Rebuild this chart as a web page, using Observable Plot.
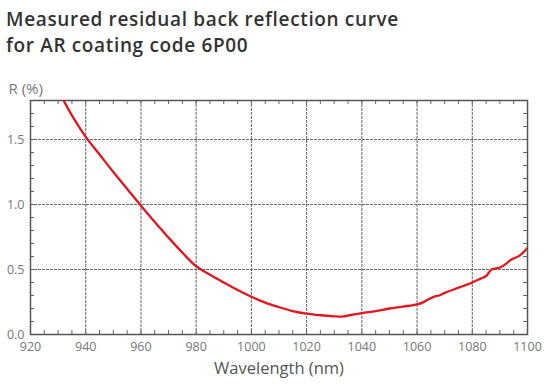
<!DOCTYPE html>
<html>
<head>
<meta charset="utf-8">
<script src="https://cdn.jsdelivr.net/npm/d3@7"></script>
<script src="https://cdn.jsdelivr.net/npm/@observablehq/plot@0.6"></script>
<style>
  html, body { margin: 0; padding: 0; background: #fff; }
  #title { height: 60px; box-sizing: border-box; padding: 6px 0 0 6px; font-family: "Open Sans", sans-serif; font-weight: 600; font-size: 19px; letter-spacing: 0.65px; line-height: 26px; color: #333; white-space: nowrap; }
  #chart svg { display: block; }
</style>
</head>
<body>
<div id="title">Measured residual back reflection curve<br>for AR coating code 6P00</div>
<div id="chart"></div>
<script>
const wavelength = [932, 935, 940, 945, 950, 955, 960, 965, 970, 975, 980, 985, 990, 995, 1000, 1005, 1010, 1015, 1020, 1025, 1030, 1033, 1036, 1040, 1045, 1050, 1055, 1060, 1062, 1064, 1066, 1068, 1070, 1075, 1080, 1083, 1085, 1087, 1090, 1092, 1094, 1097, 1100];
const reflection = [1.80, 1.685, 1.52, 1.385, 1.25, 1.12, 0.99, 0.865, 0.745, 0.63, 0.525, 0.46, 0.40, 0.342, 0.29, 0.245, 0.21, 0.18, 0.16, 0.148, 0.14, 0.138, 0.15, 0.165, 0.18, 0.20, 0.215, 0.232, 0.245, 0.27, 0.29, 0.30, 0.32, 0.36, 0.40, 0.43, 0.45, 0.50, 0.515, 0.54, 0.575, 0.605, 0.665];
const xTicks = [920, 940, 960, 980, 1000, 1020, 1040, 1060, 1080, 1100];
const yTicks = [0, 0.5, 1.0, 1.5];
const xMinor = d3.range(925, 1100, 5);
const yMinor = d3.range(0.1, 1.8, 0.1);

const data = wavelength.map((w, i) => ({w, r: reflection[i]}));
const W = 551, H = 331, mL = 30, mR = 24, mT = 40, mB = 57;
const pw = W - mL - mR, ph = H - mT - mB;
const grey = "#666";

const chart = Plot.plot({
  width: W, height: H,
  marginLeft: mL, marginRight: mR, marginTop: mT, marginBottom: mB,
  style: {fontFamily: "'Open Sans', sans-serif", fontSize: "12px", color: "#777", background: "#fff"},
  x: {domain: [920, 1100]},
  y: {domain: [0, 1.8]},
  marks: [
    Plot.gridX(xTicks.slice(1, -1), {stroke: "#555", strokeOpacity: 0.9, strokeWidth: 1, strokeDasharray: "3,1"}),
    Plot.gridY(yTicks.slice(1), {stroke: "#555", strokeOpacity: 0.9, strokeWidth: 1, strokeDasharray: "3,1"}),
    Plot.tickX(xMinor, {x: d => d, stroke: grey, insetTop: ph - 4}),
    Plot.tickX(xMinor, {x: d => d, stroke: grey, insetBottom: ph - 4}),
    Plot.tickY(yMinor, {y: d => d, stroke: grey, insetRight: pw - 4}),
    Plot.tickY(yMinor, {y: d => d, stroke: grey, insetLeft: pw - 4}),
    Plot.axisX(xTicks, {tickSize: 0, tickPadding: 8, tickFormat: d3.format("d"), fill: "#777", fontSize: "12.5px", label: null}),
    Plot.axisY(yTicks, {tickSize: 0, tickPadding: 6, tickFormat: d3.format(".1f"), fill: "#777", fontSize: "12.5px", label: null}),
    Plot.frame({stroke: "#555", strokeWidth: 1.5}),
    Plot.line(data, {x: "w", y: "r", stroke: "#e3161e", strokeWidth: 2.3, curve: "catmull-rom", clip: true}),
    Plot.text(["R (%)"], {frameAnchor: "top-left", dx: -22, dy: -17, textAnchor: "start", fill: "#777", fontSize: "15px"}),
    Plot.text(["Wavelength (nm)"], {frameAnchor: "bottom", dy: 39, fill: "#555", fontSize: "16.5px"})
  ]
});
document.getElementById("chart").appendChild(chart);
</script>
</body>
</html>
